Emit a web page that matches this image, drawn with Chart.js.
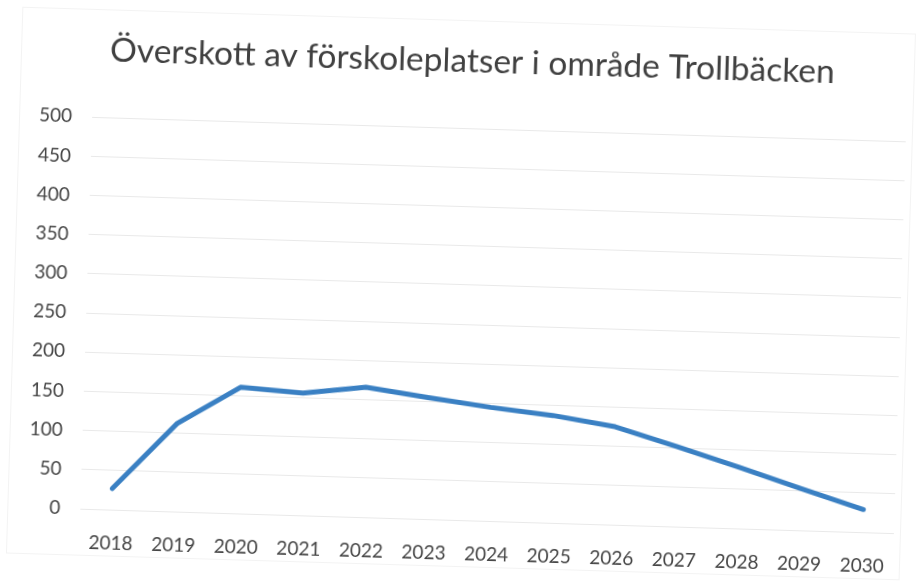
<!DOCTYPE html>
<html>
<head>
<meta charset="utf-8">
<script src="https://cdn.jsdelivr.net/npm/chart.js@4"></script>
<style>
  html, body { margin: 0; padding: 0; background: #ffffff; }
  #wrap { width: 920px; height: 585px; overflow: hidden; background: #ffffff; }
  #c { display: block; transform: rotate(1.72deg); transform-origin: 460px 292px; }
</style>
</head>
<body>
<div id="wrap"><canvas id="c" width="920" height="585"></canvas></div>
<script>
const titleText = "Överskott av förskoleplatser i område Trollbäcken";
const years = ["2018","2019","2020","2021","2022","2023","2024","2025","2026","2027","2028","2029","2030"];
const surplus = [27, 112, 161, 156, 166, 155, 145, 137, 125, 102, 78, 53, 29];
const yTicks = [0, 50, 100, 150, 200, 250, 300, 350, 400, 450, 500];

const FONT = "Lato, 'Open Sans', sans-serif";

const frame = {
  id: 'frame',
  beforeDraw(chart) {
    const ctx = chart.ctx;
    ctx.save();
    ctx.fillStyle = '#ffffff';
    ctx.fillRect(0, 0, chart.width, chart.height);
    ctx.strokeStyle = '#f3f3f3';
    ctx.lineWidth = 1;
    ctx.strokeRect(14.5, 20.5, 893, 546);
    ctx.restore();
  }
};

new Chart(document.getElementById('c'), {
  type: 'line',
  data: {
    labels: years,
    datasets: [{
      data: surplus,
      borderColor: '#3a80c3',
      backgroundColor: '#3a80c3',
      borderWidth: 5,
      tension: 0,
      pointRadius: 0,
      pointHoverRadius: 0,
      fill: false,
      borderCapStyle: 'round',
      borderJoinStyle: 'round'
    }]
  },
  options: {
    responsive: false,
    animation: false,
    devicePixelRatio: 1,
    layout: { padding: { left: 30, right: 19, top: 10, bottom: 10 } },
    plugins: {
      legend: { display: false },
      tooltip: { enabled: false },
      title: {
        display: true,
        text: titleText,
        color: '#404040',
        font: { family: FONT, size: 33.5, weight: 'normal' },
        padding: { top: 31, bottom: 47 }
      }
    },
    scales: {
      x: {
        type: 'category',
        offset: true,
        grid: { display: false, drawTicks: false },
        border: { display: false },
        ticks: {
          color: '#454545',
          font: { family: FONT, size: 19 },
          padding: 22,
          maxRotation: 0,
          autoSkip: false
        },
        afterFit(scale) { scale.height = 55; }
      },
      y: {
        min: 0,
        max: 500,
        clip: false,
        afterBuildTicks(scale) { scale.ticks = yTicks.map(v => ({ value: v })); },
        grid: { color: '#e9e9e9', lineWidth: 1, drawTicks: false },
        border: { display: false },
        ticks: {
          color: '#454545',
          font: { family: FONT, size: 19 },
          padding: 20
        },
        afterFit(scale) { scale.width = 57; }
      }
    }
  },
  plugins: [frame]
});
</script>
</body>
</html>
